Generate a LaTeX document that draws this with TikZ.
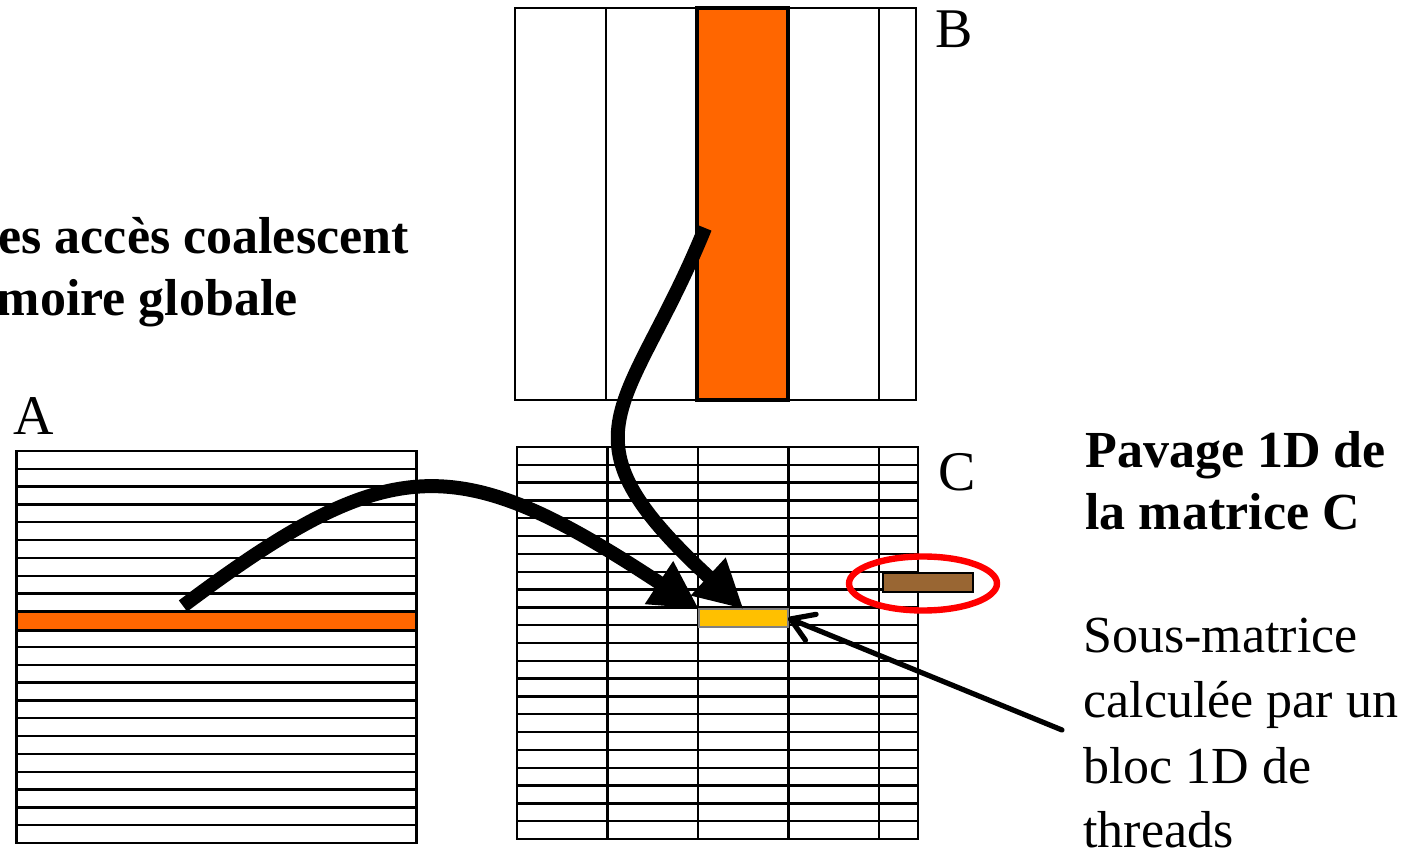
\documentclass[tikz,border=0pt]{standalone}
\usepackage{fontspec}
\setmainfont{Liberation Serif}
\usetikzlibrary{arrows.meta,shapes.geometric}
\definecolor{orangeA}{HTML}{FF6600}
\definecolor{yellowC}{HTML}{FFC000}
\definecolor{brownC}{HTML}{996633}
\begin{document}
\begin{tikzpicture}[x=0.5pt,y=-0.5pt,
  gridline/.style={line width=1.2pt},
  matbox/.style={draw, line width=1.2pt, inner sep=0pt, outer sep=0pt, anchor=north west},
  cell/.style={draw, inner sep=0pt, outer sep=0pt, anchor=north west},
  bigarrow/.style={line width=7pt, -{Triangle[length=24pt,width=24pt]}},
  thinarrow/.style={line width=2.6pt, line cap=round, -{Straight Barb[length=11pt,width=14pt,round]}},
  letter/.style={font={\fontsize{28}{34}\selectfont}, inner sep=0pt, anchor=base west},
  boldtxt/.style={font={\fontsize{26}{31}\selectfont\bfseries}, inner sep=0pt},
  plaintxt/.style={font={\fontsize{26}{32}\selectfont}, inner sep=0pt, anchor=base west},
]
\useasboundingbox (0,0) rectangle (1419,849);
\clip (0,0) rectangle (1419,849);
\fill[white] (0,0) rectangle (1419,849);

% Matrix A
\node[matbox, minimum width=200pt, minimum height=196pt] (A) at (16.5,451) {};
\foreach \i in {1,...,21} \draw[gridline] (16.5,{451+\i*17.818}) -- ++(400,0);
\node[cell, fill=orangeA, line width=1.6pt, minimum width=200pt, minimum height=9.5pt] (Arow) at (16.5,611.5) {};

% Matrix B
\node[matbox, minimum width=200.5pt, minimum height=196pt] (B) at (515,8) {};
\foreach \x in {606,879} \draw[gridline] (\x,8) -- (\x,400);
\node[cell, fill=orangeA, line width=1.6pt, minimum width=45.5pt, minimum height=196pt] (Bcol) at (697,8) {};

% Matrix C
\node[matbox, minimum width=200.5pt, minimum height=196pt] (C) at (517,447) {};
\foreach \x in {607.5,698,788.5,879} \draw[gridline] (\x,447) -- (\x,839);
\foreach \i in {1,...,21} \draw[gridline] (517,{447+\i*17.818}) -- ++(401,0);
\node[cell, fill=yellowC, draw=gray, line width=0.8pt, minimum width=44.5pt, minimum height=9pt] (Y) at (699,609) {};
\node[cell, fill=brownC, line width=1pt, minimum width=45pt, minimum height=9.5pt] (Br) at (883,573) {};
\node[ellipse, draw=red, line width=3.2pt, minimum width=74pt, minimum height=27pt, inner sep=0pt] (E) at (923,583.5) {};

% Labels
\node[letter] (lB) at (935,48) {B};
\node[letter] (lA) at (13,435) {A};
\node[letter] (lC) at (938,491) {C};
\node[boldtxt, anchor=base east] (t1) at (409,254) {es accès coalescent};
\node[boldtxt, anchor=base east] (t2) at (298,316) {moire globale};
\node[boldtxt, anchor=base west] (t3) at (1085,468) {Pavage 1D de};
\node[boldtxt, anchor=base west] (t4) at (1085,530) {la matrice C};
\node[plaintxt] (t5) at (1083,653) {Sous-matrice};
\node[plaintxt] (t6) at (1083,718) {calculée par un};
\node[plaintxt] (t7) at (1083,783) {bloc 1D de};
\node[plaintxt] (t8) at (1083,847) {threads};

% Arrows
\coordinate (sA) at (183,606);
\coordinate (sB) at (705,228);
\coordinate (sT) at (1062,730);
\draw[bigarrow] (sA) .. controls (391,450) and (458,450) .. (Y.north west);
\draw[bigarrow] (sB) .. controls (630,413) and (551,432) .. (Y.north);
\draw[thinarrow] (sT) -- (Y.east);
\end{tikzpicture}
\end{document}
